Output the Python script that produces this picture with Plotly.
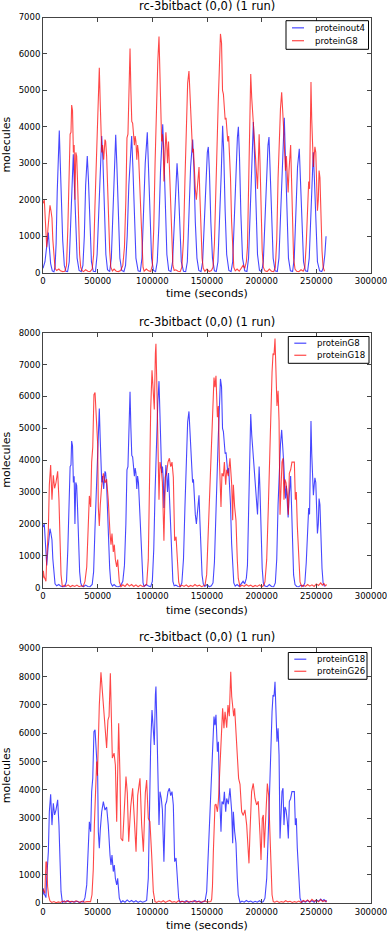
import plotly.graph_objects as go

# ---------------- data (time in seconds, molecules) ----------------
proteinout4 = [
    (0, 120), (1800, 300), (3300, 700), (4900, 1100), (5800, 700), (7000, 250), (8500, 50), (10000, 20),
    (11000, 150), (12000, 800), (13000, 2200), (14000, 3300), (14900, 3900), (15800, 3000), (16800, 2100),
    (18000, 900), (19500, 200), (21000, 40), (22500, 30), (24000, 300), (25500, 1500), (26800, 2900),
    (27700, 3250), (28600, 2500), (29800, 1300), (31200, 400), (33000, 60), (35000, 30), (36500, 200),
    (37800, 1000), (39000, 2400), (40500, 3200), (41500, 2600), (42800, 1200), (44300, 300), (46000, 40),
    (48000, 30), (49500, 500), (51000, 1800), (52500, 3100), (53700, 3750), (54800, 3100), (56000, 1700),
    (57500, 500), (59000, 80), (61000, 30), (62500, 400), (64000, 1600), (65500, 3100), (66500, 3780),
    (67500, 3000), (68800, 1500), (70300, 400), (72000, 60), (74000, 30), (75500, 200), (77000, 1000),
    (78500, 2400), (79800, 3300), (81100, 3750), (82200, 2900), (83500, 1400), (85000, 400), (87000, 50),
    (89000, 30), (90500, 400), (92000, 1600), (93500, 3000), (95400, 3850), (96500, 3000), (97800, 1500),
    (99300, 400), (101000, 60), (103000, 30), (104500, 300), (106000, 1300), (107500, 2800), (108600, 3700),
    (109500, 4070), (110500, 3300), (111800, 1800), (113300, 500), (115000, 60), (117000, 30), (118500, 300),
    (120000, 1300), (121500, 2600), (122600, 3000), (123600, 2500), (125000, 1200), (126500, 300),
    (128500, 40), (130500, 30), (132000, 300), (133500, 1400), (135000, 2900), (136900, 3650), (138000, 2900),
    (139300, 1400), (140800, 400), (142500, 60), (144500, 30), (146000, 300), (147500, 1300), (149000, 2600),
    (150300, 3300), (151200, 3450), (152200, 2800), (153500, 1400), (155000, 400), (156800, 50), (158500, 30),
    (160000, 300), (161500, 1300), (163000, 2700), (164300, 4030), (165300, 3300), (166600, 1700),
    (168000, 500), (170000, 60), (172000, 30), (173500, 300), (175000, 1400), (176500, 2900), (177800, 3700),
    (178700, 4000), (179700, 3200), (181000, 1600), (182500, 400), (184500, 50), (186500, 30), (188000, 400),
    (189500, 1600), (191000, 3000), (192400, 4130), (193400, 3300), (194700, 1700), (196200, 500),
    (198000, 60), (200000, 30), (201500, 300), (203000, 1400), (204500, 2800), (205800, 3500), (206700, 3720),
    (207700, 2900), (209000, 1400), (210500, 400), (212300, 50), (214300, 30), (215800, 400), (217300, 1600),
    (218800, 3000), (219800, 4000), (220700, 4250), (221600, 3300), (223000, 1600), (224500, 400),
    (226300, 50), (228300, 30), (229800, 400), (231300, 1600), (232800, 2900), (234400, 3400), (235400, 2700),
    (236800, 1300), (238300, 300), (240000, 50), (242000, 30), (243500, 400), (245000, 1600), (246300, 2900),
    (247200, 3300), (248200, 2600), (249500, 1300), (251000, 300), (253000, 50), (255000, 30), (256500, 150),
    (257800, 500), (258900, 1000),
]

proteinG8 = [
    (0, 1900), (1200, 2000), (2200, 1400), (3400, 700), (4500, 1200), (5500, 1600), (6400, 1850), (7300, 1700),
    (8200, 1500), (9000, 900), (10000, 350), (11000, 120), (12500, 60), (14500, 100), (16000, 50), (18000, 30),
    (20000, 40), (21500, 200), (22700, 1200), (23800, 2600), (24800, 3800), (25600, 3850), (26200, 4600),
    (27000, 4450), (27800, 3300), (28500, 3500), (29200, 2000), (30000, 3300), (30800, 3200), (31600, 2500),
    (32500, 1400), (33500, 500), (34500, 150), (35500, 60), (37000, 30), (39000, 80), (41000, 40), (43000, 30),
    (45000, 100), (46300, 500), (47500, 1800), (48500, 2700), (49700, 4100), (50600, 4700), (51500, 5620),
    (52300, 4700), (53000, 3700), (53700, 3300), (54500, 3500), (55500, 3100), (56700, 3650), (57300, 3600),
    (58200, 3200), (59000, 2400), (60000, 1500), (61000, 600), (62000, 150), (63500, 50), (65000, 100),
    (67000, 40), (69000, 30), (71000, 60), (73000, 200), (74500, 700), (75800, 2000), (76800, 3700),
    (77700, 3800), (78500, 5000), (79600, 6150), (80400, 5000), (81200, 4150), (82000, 4100), (82800, 3700),
    (83600, 3500), (84300, 3750), (85000, 3600), (85800, 3100), (86500, 3500), (87300, 3300), (88200, 2600),
    (89200, 1600), (90300, 700), (91500, 150), (92500, 40), (94500, 100), (96500, 50), (98500, 30),
    (100000, 200), (101300, 1200), (102500, 3000), (103800, 4600), (105000, 5800), (106100, 6480),
    (107000, 5200), (107800, 4000), (108500, 3600), (109300, 3800), (110000, 3400), (110600, 2500),
    (111300, 3100), (112400, 3850), (113200, 3500), (113900, 3000), (114800, 3600), (115800, 2700),
    (116800, 1600), (117800, 700), (118800, 200), (120000, 60), (121500, 80), (123500, 40), (125500, 30),
    (127000, 150), (128500, 900), (129800, 2500), (131000, 4000), (132300, 5200), (133500, 5530),
    (134400, 4900), (135300, 4400), (136000, 3800), (136800, 3300), (137600, 3400), (138400, 2700),
    (139300, 2300), (140300, 2000), (141000, 2300), (141800, 2800), (142700, 2900), (143500, 2100),
    (144500, 1100), (145500, 400), (146600, 120), (148000, 40), (150000, 100), (152000, 30), (154000, 60),
    (155500, 150), (156800, 800), (158000, 2300), (159200, 4000), (160300, 4700), (161300, 5600),
    (162300, 6550), (163300, 6300), (164200, 5000), (165000, 4900), (165800, 4300), (166600, 4200),
    (167400, 4250), (168200, 3900), (169000, 3600), (169800, 3750), (170600, 3300), (171500, 2600),
    (172500, 1400), (173500, 500), (174500, 150), (175800, 50), (177500, 100), (179500, 40), (181500, 150),
    (183000, 200), (184500, 120), (186000, 300), (187000, 700), (188000, 2000), (189000, 4000), (190000, 5450),
    (190900, 4800), (191700, 4400), (192500, 4000), (193400, 3800), (194300, 3300), (195300, 2700),
    (196200, 2300), (197000, 3100), (197700, 3800), (198500, 3000), (199500, 1600), (200500, 600),
    (201500, 150), (203000, 50), (205000, 30), (207000, 100), (209000, 40), (211000, 30), (212500, 150),
    (213800, 900), (215000, 2600), (216200, 3900), (217200, 4500), (218300, 4950), (219300, 4500),
    (220200, 3900), (221000, 3300), (221800, 2800), (222600, 3200), (223400, 2500), (224200, 2200),
    (225000, 2800), (225800, 3200), (226500, 3500), (227300, 2600), (228200, 1300), (229200, 400),
    (230500, 100), (232000, 40), (234000, 30), (236000, 80), (238000, 40), (239500, 150), (240800, 800),
    (242000, 2000), (243000, 2500), (243800, 2300), (244500, 3800), (245100, 5230), (245800, 4200),
    (246600, 3300), (247300, 2900), (248000, 3200), (248700, 3450), (249500, 3300), (250300, 2600),
    (251000, 1700), (251800, 2000), (252500, 2800), (253300, 2600), (254200, 1500), (255200, 600),
    (256200, 150), (257500, 40),
]

proteinG18 = [
    (0, 300), (300, 530), (1000, 350), (1800, 290), (2700, 200), (3400, 900), (4900, 1820), (5800, 3230),
    (7000, 3850), (8200, 2760), (9450, 3530), (10600, 3120), (11900, 3300), (13400, 3650), (14600, 2760),
    (15600, 1470), (16500, 410), (17700, 30), (19500, 80), (21000, 40), (23000, 90), (25000, 30), (27000, 70),
    (29000, 40), (31000, 80), (33000, 30), (35000, 60), (36800, 40), (38400, 200), (40000, 650), (41400, 2060),
    (42400, 2880), (43600, 2530), (44500, 3940), (45500, 4410), (46600, 6060), (47600, 6120), (48500, 5350),
    (49100, 5400), (50000, 4500), (50600, 2530), (51500, 1940), (52400, 2600), (53700, 3230), (55200, 3590),
    (56700, 3290), (58200, 3400), (59700, 2760), (61300, 1700), (62200, 1350), (63100, 1700), (64300, 1120),
    (65200, 1350), (66200, 880), (67400, 650), (68300, 880), (69800, 180), (71300, 30), (73000, 90),
    (75000, 40), (77000, 120), (79000, 50), (81000, 100), (83000, 40), (85000, 90), (87000, 30), (89000, 80),
    (91000, 40), (93000, 60), (94800, 100), (96300, 880), (97200, 3230), (98500, 5590), (99700, 6820),
    (100900, 6060), (101800, 5590), (102800, 7350), (103300, 7650), (104300, 6060), (105200, 4060),
    (106100, 2760), (107000, 3940), (108200, 3700), (109200, 3300), (110000, 1820), (110600, 1470),
    (111900, 3470), (113100, 3600), (114300, 3940), (115600, 4060), (116800, 3800), (118000, 3940),
    (119200, 3470), (120400, 1470), (121700, 1600), (122900, 880), (124100, 180), (125300, 30), (127000, 80),
    (129000, 40), (131000, 90), (133000, 30), (135000, 70), (137000, 40), (139000, 100), (141000, 50),
    (143000, 80), (145000, 30), (146500, 50), (148200, 80), (149700, 410), (151200, 1820), (152100, 2760),
    (153300, 3470), (154300, 4200), (155200, 5590), (156400, 6590), (157300, 6290), (158200, 6650),
    (159500, 5350), (160400, 5700), (161300, 4060), (161900, 3000), (162800, 2530), (163700, 3590),
    (165000, 3500), (165900, 3940), (167100, 3230), (168000, 3700), (169500, 3500), (171000, 4060),
    (172600, 3230), (173500, 2120), (174100, 3230), (175300, 2530), (176500, 2120), (177700, 880),
    (178600, 290), (180200, 30), (182000, 80), (184000, 40), (186000, 100), (188000, 50), (190000, 80),
    (192000, 30), (194000, 70), (196000, 40), (198000, 90), (200000, 30), (201500, 60), (203000, 180),
    (204600, 880), (206100, 2530), (207600, 4650), (208500, 6290), (209500, 6760), (210400, 7350),
    (211300, 7300), (212200, 7820), (213100, 7000), (214000, 5700), (215000, 6180), (215900, 5240),
    (216800, 2290), (217700, 3000), (218600, 3940), (219500, 4060), (220400, 2760), (221300, 3400),
    (222300, 3290), (223500, 2880), (224400, 2290), (225300, 3590), (226500, 3700), (227700, 3940),
    (229000, 3940), (229900, 3940), (230800, 2760), (231700, 3000), (232600, 1940), (233900, 880),
    (235100, 180), (236600, 30), (238000, 80), (240000, 40), (242000, 100), (244000, 50), (246000, 90),
    (248000, 40), (250000, 120), (252000, 70), (254000, 150), (255500, 80), (257000, 130), (258500, 60),
    (259500, 100),
]

proteinG26 = [
    (0, 500), (800, 400), (1700, 350), (2700, 1470), (3400, 1450), (4200, 600), (5200, 250), (6400, 80),
    (8000, 30), (10000, 60), (12000, 20), (14000, 50), (16000, 30), (18000, 80), (20000, 40), (22000, 90),
    (24000, 50), (26000, 70), (28000, 40), (30000, 90), (32000, 60), (34000, 30), (36000, 80), (38000, 40),
    (40000, 60), (42000, 50), (43500, 60), (44800, 300), (46000, 1200), (47000, 2800), (48200, 4300),
    (49100, 5000), (49800, 4500), (50600, 5820), (51500, 7000), (53000, 8150), (54600, 7350), (56100, 6760),
    (57300, 5940), (58200, 5480), (59400, 6470), (60400, 6600), (61600, 8120), (62800, 6500), (63400, 5130),
    (65000, 5300), (66200, 4880), (67400, 2880), (68300, 4900), (69200, 6350), (70400, 4500), (71300, 2290),
    (72900, 2200), (74400, 3590), (75900, 4470), (77100, 3900), (78400, 2170), (80200, 3400), (82000, 4060),
    (83500, 3000), (85100, 1820), (86600, 3800), (88700, 4410), (90200, 2800), (91800, 1820), (93600, 3900),
    (94800, 4350), (96300, 3000), (97800, 2880), (99400, 1700), (100200, 900), (100900, 410), (102400, 60),
    (104000, 30), (106000, 80), (108000, 40), (110000, 90), (112000, 30), (114000, 70), (116000, 100),
    (118000, 40), (120000, 60), (122000, 30), (124000, 90), (126000, 50), (128000, 70), (130000, 30),
    (132000, 80), (134000, 40), (136000, 60), (138000, 90), (140000, 40), (142000, 70), (144000, 30),
    (146000, 60), (148000, 90), (150000, 50), (152000, 70), (153500, 60), (154300, 150), (155000, 600),
    (155800, 1800), (156600, 2900), (157300, 3470), (158200, 3500), (159500, 3230), (160400, 3600),
    (161300, 4400), (162800, 5700), (164300, 6880), (165500, 6180), (166500, 6760), (168000, 6200),
    (169200, 7000), (170400, 6600), (171700, 8170), (172600, 7300), (173500, 6880), (174400, 6600),
    (175300, 6880), (176500, 6060), (177700, 5350), (178900, 4410), (180200, 4200), (181700, 3230),
    (183200, 3100), (184700, 3300), (186300, 2760), (187200, 2000), (188400, 1410), (189300, 2500),
    (190800, 3940), (192300, 4230), (193900, 3700), (195400, 3470), (196900, 3600), (198500, 2400),
    (199400, 1530), (200600, 3000), (201500, 3120), (202400, 1960), (203900, 3500), (205200, 4230),
    (206400, 3800), (207600, 2200), (208600, 1000), (209500, 300), (210600, 60), (212000, 40), (214000, 80),
    (216000, 30), (218000, 60), (220000, 40), (222000, 90), (224000, 50), (226000, 70), (228000, 30),
    (230000, 60), (232000, 40), (234000, 80), (236000, 30), (238000, 100), (240000, 60), (242000, 120),
    (244000, 40), (246000, 140), (248000, 70), (250000, 110), (252000, 50), (254000, 130), (256000, 60),
    (258000, 100), (259500, 40),
]

panel_title = "rc-3bitbact (0,0) (1 run)"
x_label = "time (seconds)"
y_label = "molecules"
x_ticks = [0, 50000, 100000, 150000, 200000, 250000, 300000]
panels = [
    ("proteinout4", proteinout4, "proteinG8", proteinG8, 7000),
    ("proteinG8", proteinG8, "proteinG18", proteinG18, 8000),
    ("proteinG18", proteinG18, "proteinG26", proteinG26, 9000),
]

# ---------------- layout geometry (pixels) ----------------
W, H = 387, 932
FONT = "DejaVu Sans"
BLUE = "rgba(0,0,255,0.72)"
RED = "rgba(255,0,0,0.72)"
FRAME = "#444444"
plot_left, plot_right = 43, 371
plot_tops = [17.5, 332.7, 648.3]
plot_bottoms = [272.7, 587.7, 903.3]
title_y = [6.5, 321.7, 636.7]
xlabel_y = [293.3, 610, 925.2]
legend_boxes = [(286, 20.7, 368.5, 49.3), (288.3, 336.5, 369, 363.3), (288.3, 652.5, 367, 679.3)]


def fx(px):
    return px / W


def fy(py):
    return 1 - py / H


fig = go.Figure()
annotations = []
shapes = []
for i, (n1, s1, n2, s2, ymax) in enumerate(panels):
    k = "" if i == 0 else str(i + 1)
    for name, pts, col in ((n1, s1, BLUE), (n2, s2, RED)):
        fig.add_trace(go.Scatter(
            x=[p[0] for p in pts], y=[p[1] for p in pts], mode="lines", name=name,
            line=dict(color=col, width=1.1), xaxis="x" + k, yaxis="y" + k, showlegend=False,
            hoverinfo="skip"))
    common = dict(showgrid=False, zeroline=False, showline=True, linecolor=FRAME, linewidth=1,
                  mirror="ticks", ticks="inside", ticklen=4, tickcolor=FRAME, tickwidth=1,
                  automargin=False, ticklabeloverflow="allow",
                  tickfont=dict(family=FONT, size=8.5, color="black"))
    fig.layout["xaxis" + k] = dict(
        domain=[fx(plot_left), fx(plot_right)], range=[0, 300000], anchor="y" + k,
        tickvals=x_ticks, ticktext=[str(v) for v in x_ticks], **common)
    fig.layout["yaxis" + k] = dict(
        domain=[fy(plot_bottoms[i]), fy(plot_tops[i])], range=[0, ymax], anchor="x" + k,
        tickvals=list(range(0, ymax + 1, 1000)), ticktext=[str(v) for v in range(0, ymax + 1, 1000)],
        **common)
    cx = (plot_left + plot_right) / 2
    annotations.append(dict(text=panel_title, x=fx(cx), y=fy(title_y[i]), xref="paper", yref="paper",
                            showarrow=False, xanchor="center", yanchor="middle",
                            font=dict(family=FONT, size=11.5, color="black")))
    annotations.append(dict(text=x_label, x=fx(cx), y=fy(xlabel_y[i]), xref="paper", yref="paper",
                            showarrow=False, xanchor="center", yanchor="middle",
                            font=dict(family=FONT, size=11, color="black")))
    annotations.append(dict(text=y_label, x=fx(6.5), y=fy((plot_tops[i] + plot_bottoms[i]) / 2),
                            xref="paper", yref="paper", showarrow=False, textangle=-90,
                            xanchor="center", yanchor="middle",
                            font=dict(family=FONT, size=11, color="black")))
    # legend box
    x0, y0, x1, y1 = legend_boxes[i]
    shapes.append(dict(type="rect", xref="paper", yref="paper", x0=fx(x0), x1=fx(x1), y0=fy(y1), y1=fy(y0),
                       line=dict(color="black", width=1), fillcolor="white", layer="above"))
    rows = [y0 + (y1 - y0) * 0.25, y0 + (y1 - y0) * 0.70]
    for (name, col), ry in zip(((n1, BLUE), (n2, RED)), rows):
        shapes.append(dict(type="line", xref="paper", yref="paper", x0=fx(x0 + 6), x1=fx(x0 + 18),
                           y0=fy(ry), y1=fy(ry), line=dict(color=col, width=1.2), layer="above"))
        annotations.append(dict(text=name, x=fx(x0 + 26.5), y=fy(ry), xref="paper", yref="paper",
                                showarrow=False, xanchor="left", yanchor="middle",
                                font=dict(family=FONT, size=8.6, color="black")))

fig.update_layout(width=W, height=H, margin=dict(l=0, r=0, t=0, b=0, autoexpand=False),
                  paper_bgcolor="white", plot_bgcolor="white",
                  annotations=annotations, shapes=shapes, showlegend=False,
                  font=dict(family=FONT))
fig.write_html("out.html", config={"displayModeBar": False, "staticPlot": True},
               post_script="document.body.style.margin='0px';document.body.style.overflow='hidden';")
